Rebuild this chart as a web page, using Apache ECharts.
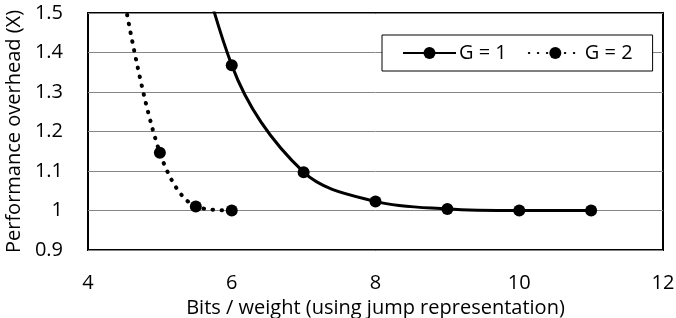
<!DOCTYPE html>
<html>
<head>
<meta charset="utf-8">
<script src="https://cdn.jsdelivr.net/npm/echarts@6/dist/echarts.min.js"></script>
<style>
  html, body { margin: 0; padding: 0; background: #fff; }
  #chart { width: 676px; height: 318px; }
</style>
</head>
<body>
<div id="chart"></div>
<script>
// bits per weight and overhead
// first point of each series sits above 1.5 and only shows as the clipped curve
var g1Bits = [5, 6, 7, 8, 9, 10, 11]
var g1Overhead = [2.07, 1.368, 1.097, 1.023, 1.004, 1.0, 1.0]
var g2Bits = [4.5, 5, 5.5, 6]
var g2Overhead = [1.54, 1.146, 1.01, 1.0]

var xTicks = [4, 6, 8, 10, 12]
var yTicks = [0.9, 1.0, 1.1, 1.2, 1.3, 1.4, 1.5]

var FONT = 'Open Sans'
var FS = 20

function pairs(xs, ys) {
  return xs.map(function(x, i) { return [x, ys[i]] })
}

var chart = echarts.init(document.getElementById('chart'), null, { renderer: 'canvas' })
chart.setOption({
  animation: false,
  backgroundColor: '#fff',
  textStyle: { fontFamily: FONT, color: '#000' },
  grid: {
    left: 88, right: 13, top: 13, bottom: 68,
    outerBoundsMode: 'none',
    containLabel: false,
    show: true, borderColor: '#000', borderWidth: 2, backgroundColor: 'transparent'
  },
  legend: {
    left: 382, top: 35,
    padding: [8, 20, 8, 20],
    backgroundColor: '#fff',
    borderColor: '#000', borderWidth: 1,
    itemWidth: 53, itemHeight: 15, itemGap: 21,
    textStyle: { fontFamily: FONT, fontSize: FS, color: '#000', padding: [0, 0, 0, -2] },
    data: ['G = 1', 'G = 2']
  },
  xAxis: {
    type: 'value',
    min: xTicks[0], max: xTicks[xTicks.length - 1], interval: 2,
    name: 'Bits / weight (using jump representation)',
    nameLocation: 'middle', nameGap: 45,
    nameTextStyle: { fontFamily: FONT, fontSize: FS, color: '#000' },
    axisLine: { show: false },
    axisTick: { show: false },
    splitLine: { show: false },
    axisLabel: { fontFamily: FONT, fontSize: FS, color: '#000', margin: 23 }
  },
  yAxis: {
    type: 'value',
    min: yTicks[0], max: yTicks[yTicks.length - 1], interval: 0.1,
    name: 'Performance overhead (X)',
    nameLocation: 'middle', nameGap: 63,
    nameTextStyle: { fontFamily: FONT, fontSize: FS, color: '#000' },
    axisLine: { show: false },
    axisTick: { show: false },
    splitLine: { show: true, lineStyle: { color: '#868686', width: 1 } },
    axisLabel: { fontFamily: FONT, fontSize: FS, color: '#000', margin: 25 }
  },
  series: [
    {
      name: 'G = 1',
      type: 'line',
      smooth: 0.35,
      clip: true,
      symbol: 'circle',
      symbolSize: 12,
      itemStyle: { color: '#000' },
      lineStyle: { color: '#000', width: 3 },
      data: pairs(g1Bits, g1Overhead)
    },
    {
      name: 'G = 2',
      type: 'line',
      smooth: 0.35,
      clip: true,
      symbol: 'circle',
      symbolSize: 12,
      itemStyle: { color: '#000' },
      lineStyle: { color: '#000', width: 4, type: [0.5, 8.5], cap: 'round' },
      data: pairs(g2Bits, g2Overhead)
    }
  ]
})
</script>
</body>
</html>
